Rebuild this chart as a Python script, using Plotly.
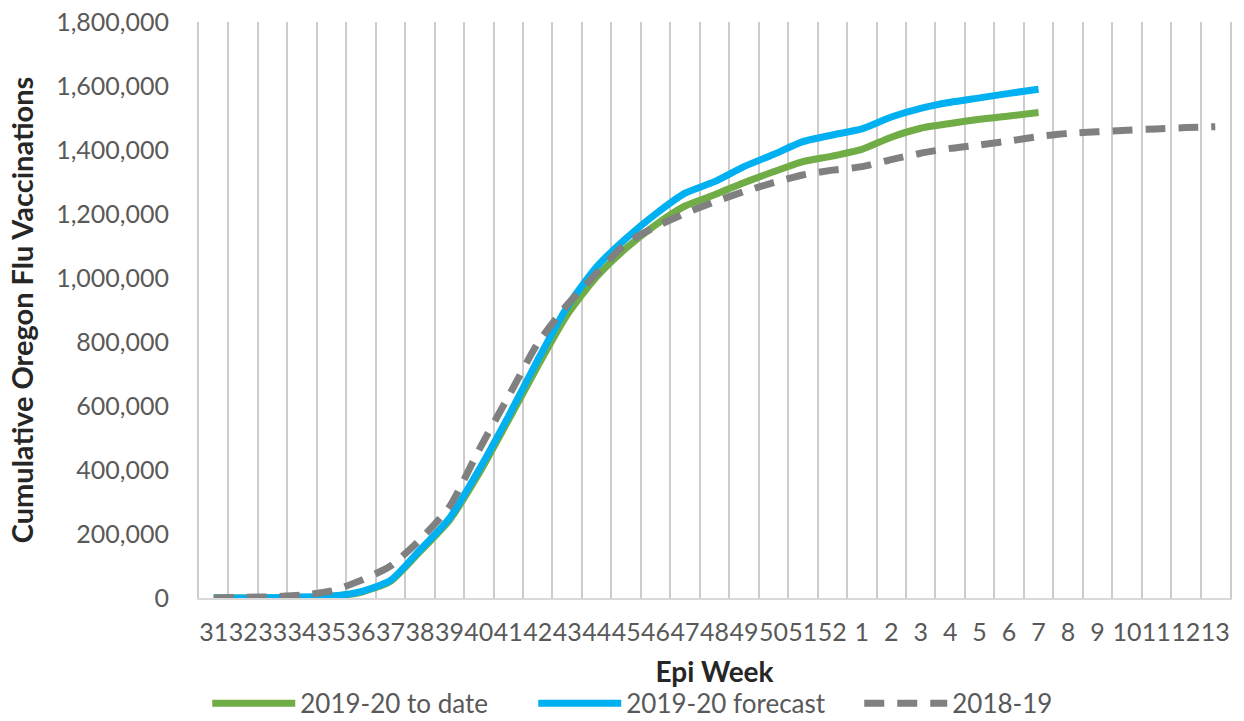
import plotly.graph_objects as go

weeks = [str(w) for w in range(31, 53)] + [str(w) for w in range(1, 14)]

to_date = [0, 0, 1000, 2000, 5000, 18000, 52000, 145000, 243000, 388000,
           555000, 725000, 885000, 1004000, 1093000, 1166000, 1225000, 1260000,
           1298000, 1332000, 1364000, 1381000, 1402000, 1440000, 1468000,
           1483000, 1496000, 1506000, 1517000]

forecast = [0, 0, 1000, 3000, 6000, 20000, 55000, 150000, 249000, 400000,
            567000, 744000, 910000, 1035000, 1124000, 1200000, 1265000, 1301000,
            1348000, 1386000, 1426000, 1447000, 1466000, 1503000, 1530000,
            1549000, 1563000, 1577000, 1590000]

prev_season = [0, 2000, 4000, 9000, 22000, 55000, 100000, 182000, 285000, 462000,
               629000, 796000, 916000, 1015000, 1108000, 1160000, 1202000, 1238000,
               1270000, 1298000, 1322000, 1337000, 1348000, 1370000, 1390000,
               1405000, 1416000, 1428000, 1442000, 1452000, 1457000, 1462000,
               1466000, 1470000, 1473000]

series_names = ["2019-20 to date", "2019-20 forecast", "2018-19"]
y_ticks = list(range(0, 1800001, 200000))

FONT = "Lato"
fig = go.Figure()
fig.add_trace(go.Scatter(x=weeks[:len(to_date)], y=to_date, name=series_names[0],
                         mode="lines", line=dict(color="#70AD47", width=7, shape="spline", smoothing=0.6)))
fig.add_trace(go.Scatter(x=weeks[:len(forecast)], y=forecast, name=series_names[1],
                         mode="lines", line=dict(color="#00B0F0", width=7, shape="spline", smoothing=0.6)))
fig.add_trace(go.Scatter(x=weeks, y=prev_season, name=series_names[2],
                         mode="lines", line=dict(color="#808080", width=7, dash="20px,13px",
                                                 shape="spline", smoothing=0.6)))

fig.update_layout(
    width=1244, height=721,
    margin=dict(l=199, r=14, t=22, b=123, autoexpand=False),
    paper_bgcolor="white", plot_bgcolor="white",
    font=dict(family=FONT, size=25, color="#595959"),
    showlegend=True,
    legend=dict(orientation="h", x=0.008, xanchor="left", y=-0.183, yanchor="middle",
                itemwidth=83, entrywidth=228, font=dict(size=26, color="#595959"),
                traceorder="normal", tracegroupgap=0, bgcolor="rgba(0,0,0,0)"),
)
fig.update_xaxes(
    type="category", categoryorder="array", categoryarray=weeks,
    range=[-0.5, len(weeks) - 0.5], automargin=False,
    tickmode="linear", tick0=0, dtick=1,
    tickson="boundaries", showgrid=True, gridcolor="#CCCCCC", gridwidth=2,
    showline=True, linecolor="#D9D9D9", linewidth=2,
    ticks="", tickangle=0, ticklabelstandoff=11,
    tickfont=dict(size=25, color="#595959"),
    title=dict(text="<b>Epi Week</b>", font=dict(size=28, color="#262626"), standoff=17),
)
fig.update_yaxes(
    range=[0, 1800000], tickvals=y_ticks, tickformat=",d", automargin=False,
    showgrid=False, zeroline=False,
    showline=True, linecolor="#CCCCCC", linewidth=2, mirror=True,
    ticks="", ticklabelstandoff=23,
    tickfont=dict(size=25, color="#595959"),
    title=dict(text="<b>Cumulative Oregon Flu Vaccinations</b>", font=dict(size=29, color="#262626"), standoff=14),
)

fig.write_html("out.html", config={"displayModeBar": False},
               post_script="document.body.style.margin='0';document.body.style.overflow='hidden';")
